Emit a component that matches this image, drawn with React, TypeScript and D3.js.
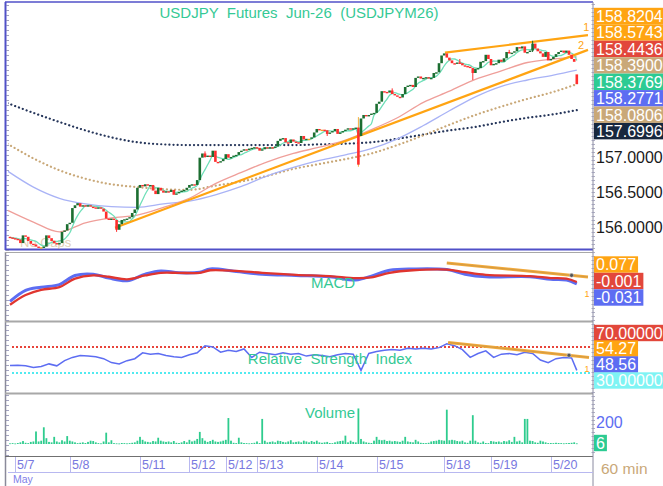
import React, { useEffect, useRef } from 'react';
import * as d3 from 'd3';

// hourly closes, USDJPY futures Jun-26, 5/7 .. 5/20
const closes = [
  155.85, 155.84, 155.83, 155.82, 155.77, 155.88, 155.86, 155.80, 155.76, 155.75,
  155.72, 155.71, 155.71, 155.72, 155.88, 155.84, 155.80, 155.77, 155.75, 155.77,
  155.93, 155.95, 156.04, 156.06, 156.27, 156.31, 156.34, 156.29, 156.31, 156.30,
  156.31, 156.29, 156.28, 156.27, 156.28, 156.26, 156.22, 156.12, 156.11, 156.12,
  156.10, 155.96, 156.04, 156.10, 156.11, 156.12, 156.14, 156.20, 156.25, 156.56,
  156.60, 156.58, 156.61, 156.59, 156.60, 156.52, 156.47, 156.56, 156.52, 156.49,
  156.51, 156.50, 156.53, 156.46, 156.48, 156.50, 156.52, 156.53, 156.56, 156.60,
  156.61, 156.60, 156.67, 156.99, 157.05, 157.00, 157.02, 157.00, 157.09, 156.93,
  156.92, 156.94, 156.97, 157.04, 156.99, 157.00, 157.02, 157.03, 157.07, 157.09,
  157.11, 157.10, 157.12, 157.13, 157.14, 157.13, 157.09, 157.11, 157.14, 157.13,
  157.14, 157.13, 157.15, 157.23, 157.26, 157.27, 157.21, 157.20, 157.25, 157.22,
  157.21, 157.20, 157.30, 157.25, 157.26, 157.26, 157.28, 157.35, 157.40, 157.39,
  157.39, 157.38, 157.33, 157.35, 157.37, 157.40, 157.33, 157.35, 157.37, 157.39,
  157.41, 157.40, 157.41, 157.42, 156.89, 157.55, 157.60, 157.59, 157.60, 157.62,
  157.63, 157.76, 157.79, 157.94, 157.93, 157.92, 157.95, 157.90, 157.88, 157.86,
  157.85, 157.90, 158.00, 158.02, 158.03, 158.00, 158.13, 158.15, 158.12, 158.13,
  158.14, 158.12, 158.13, 158.20, 158.21, 158.34, 158.45, 158.48, 158.42, 158.38,
  158.34, 158.33, 158.35, 158.34, 158.31, 158.30, 158.29, 158.27, 158.20, 158.26,
  158.27, 158.36, 158.37, 158.46, 158.40, 158.31, 158.33, 158.34, 158.39, 158.36,
  158.41, 158.50, 158.48, 158.49, 158.51, 158.57, 158.55, 158.58, 158.49, 158.50,
  158.52, 158.62, 158.55, 158.51, 158.48, 158.43, 158.50, 158.38, 158.40, 158.43,
  158.47, 158.50, 158.52, 158.49, 158.52, 158.46, 158.40, 158.36, 158.04,
];
// candles that gapped away from the previous close
const openOverrides: Record<number, number> = { 0: 155.86, 135: 157.3, 218: 158.18 };
// [index, high, low] for the visible wicks
const wicks: [number, number, number][] = [
  [41, 156.1, 155.93], [75, 157.08, 156.99], [122, 157.38, 157.3], [134, 157.57, 156.86],
  [147, 157.98, 157.9], [173, 158.4, 158.33], [178, 158.27, 158.1], [192, 158.53, 158.48],
  [201, 158.66, 158.5],
];

const volumes = [
  6, 8, 5, 9, 15, 27, 11, 8, 19, 23,
  114, 23, 30, 152, 53, 19, 15, 65, 23, 15,
  34, 23, 72, 30, 23, 15, 8, 11, 15, 9,
  19, 30, 27, 15, 8, 6, 23, 103, 15, 34,
  8, 6, 5, 9, 8, 6, 8, 11, 15, 30,
  65, 38, 23, 19, 15, 27, 23, 57, 30, 23,
  19, 23, 15, 27, 11, 9, 15, 27, 15, 38,
  23, 30, 46, 110, 53, 30, 19, 27, 38, 23,
  19, 23, 30, 38, 236, 30, 11, 8, 57, 15,
  9, 8, 6, 8, 11, 23, 8, 228, 30, 15,
  19, 23, 15, 30, 27, 19, 15, 23, 34, 15,
  19, 23, 15, 30, 23, 15, 27, 19, 30, 15,
  11, 15, 19, 9, 8, 15, 23, 27, 30, 76,
  15, 30, 19, 15, 323, 46, 23, 15, 11, 9,
  30, 65, 38, 34, 38, 27, 30, 23, 27, 23,
  19, 30, 65, 23, 19, 15, 38, 23, 11, 9,
  8, 11, 23, 27, 30, 38, 34, 30, 312, 34,
  38, 34, 27, 23, 30, 15, 11, 30, 262, 30,
  15, 11, 23, 9, 8, 27, 23, 19, 23, 15,
  27, 23, 34, 19, 65, 23, 30, 15, 228, 228,
  30, 27, 15, 11, 30, 23, 15, 8, 9, 8,
  11, 9, 8, 6, 8, 9, 11, 15, 6,
];

const dayLabels = ['5/7', '5/8', '5/11', '5/12', '5/12', '5/13', '5/14', '5/15', '5/18', '5/19', '5/20'];
const dayIdx = [2, 23, 50, 69, 83, 95, 118, 141, 167, 185, 208];

// moving averages sampled every 10 bars
const maIdx = [-1, 9, 19, 29, 39, 49, 59, 69, 79, 89, 99, 109, 119, 129, 139, 149, 159, 169, 179, 189, 199, 209, 218];
const maRed = [156.24, 156.07, 155.93, 156.06, 156.13, 156.17, 156.28, 156.41, 156.62, 156.78, 156.93, 157.05, 157.14, 157.24, 157.39, 157.56, 157.78, 157.94, 158.11, 158.23, 158.35, 158.4, 158.43];
const maBlue = [156.8, 156.57, 156.41, 156.33, 156.29, 156.28, 156.33, 156.37, 156.46, 156.58, 156.73, 156.85, 156.95, 157.03, 157.12, 157.26, 157.45, 157.66, 157.86, 158.01, 158.1, 158.17, 158.24];
const maTan = [157.19, 156.98, 156.81, 156.69, 156.61, 156.57, 156.54, 156.53, 156.59, 156.65, 156.73, 156.83, 156.9, 156.97, 157.05, 157.17, 157.31, 157.46, 157.6, 157.72, 157.83, 157.93, 158.04];
const maNavy = [157.77, 157.63, 157.5, 157.38, 157.28, 157.21, 157.18, 157.17, 157.17, 157.17, 157.17, 157.17, 157.18, 157.19, 157.21, 157.26, 157.32, 157.38, 157.43, 157.5, 157.56, 157.61, 157.67];

// trend lines: [index, price] end points
const trendMain: [number, number][][] = [
  [[40.4, 155.99], [222.3, 158.53]],
  [[167.3, 158.49], [222.3, 158.74]],
];
const trendTags = ['2', '1'];

const macdIdx = [0, 6, 12, 19, 25, 32, 38, 45, 52, 58, 65, 73, 77, 87, 97, 110, 123, 133, 139, 146, 155, 168, 175, 183, 200, 208, 214, 218];
const macdLine = [-0.3, -0.13, -0.08, -0.04, 0.1, 0.12, 0.06, 0.02, 0.12, 0.17, 0.14, 0.15, 0.2, 0.16, 0.12, 0.1, 0.08, 0.03, 0.09, 0.18, 0.2, 0.19, 0.12, 0.08, 0.08, 0.04, 0.03, -0.03];
const signalLine = [-0.35, -0.2, -0.12, -0.08, 0.05, 0.1, 0.08, 0.04, 0.1, 0.14, 0.14, 0.14, 0.18, 0.17, 0.14, 0.11, 0.09, 0.06, 0.07, 0.14, 0.18, 0.19, 0.15, 0.11, 0.09, 0.06, 0.05, 0.0];
const macdTrend: [number, number][] = [[168, 0.29], [222.3, 0.077]];

const rsiIdx = d3.range(0, 217, 3).concat([218]);
const rsiLine = [
  41.5, 42, 41, 38.5, 40, 44, 41, 49, 54, 57,
  56, 55, 52, 46, 44, 49, 52, 61, 59, 60,
  57, 55, 54, 58, 61, 72, 70, 62, 65, 63,
  67, 54, 62, 60, 58, 61, 59, 60, 56, 58,
  57, 55, 58, 60, 59, 34, 60, 63, 65, 66,
  65, 68, 67, 68, 67, 69, 75, 72, 66, 54,
  60, 64, 54, 59, 60, 58, 62, 60, 50, 46,
  52, 54, 53, 34,
];
const rsiTrend: [number, number][] = [[168.5, 77], [222.7, 54]];

const priceTags = ['158.82045', '158.57437', '158.44362', '158.39000', '158.37698', '158.27713', '158.08063', '157.69967'];
const priceTagColors = ['#ffa412', '#ffa412', '#e2473b', '#c9a878', '#2ccb93', '#5d6df2', '#c9a878', '#17273e'];
const priceTicks = [157, 156.5, 156];
const macdTags = ['0.077', '-0.001', '-0.031'];
const macdTagColors = ['#ffa412', '#e2473b', '#5d6df2'];
const rsiTags = ['70.00000', '54.27', '48.56', '30.00000'];
const rsiTagColors = ['#e2473b', '#ffa412', '#5d6df2', '#7ff4f4'];

const FONT = '"Liberation Sans", Arial, Helvetica, sans-serif';

const App = () => {
  const svgRef = useRef<SVGSVGElement | null>(null);

  useEffect(() => {
    if (!svgRef.current) return;
    const svg = d3.select(svgRef.current);
    svg.selectAll('*').remove();

    const left = 8, right = 593;
    const main = { top: 3, bottom: 249 };
    const macdP = { top: 254, bottom: 320 };
    const rsiP = { top: 323, bottom: 392 };
    const volP = { top: 395, bottom: 456 };

    const x = d3.scaleLinear().domain([0, 218]).range([10, 576.8]);
    const y = d3.scaleLinear().domain([155.671, 159.2]).range([250, 3]);
    const yMacd = d3.scaleLinear().domain([-0.585, 0.43]).range([320, 254]);
    const yRsi = d3.scaleLinear().domain([0, 100]).range([392.5, 327.5]);
    const yVol = d3.scaleLinear().domain([0, 200]).range([444, 422]);

    svg.append('rect').attr('width', 663).attr('height', 486).attr('fill', '#fff');

    const defs = svg.append('defs');
    const addClip = (id: string, p: { top: number; bottom: number }) => {
      defs.append('clipPath').attr('id', id)
        .append('rect')
        .attr('x', left).attr('y', p.top)
        .attr('width', right - left).attr('height', p.bottom - p.top);
    };
    addClip('clip-main', main);
    addClip('clip-macd', macdP);
    addClip('clip-rsi', rsiP);
    addClip('clip-vol', volP);

    // ---------- frame ----------
    const frame = svg.append('g');
    frame.append('line').attr('x1', 5).attr('x2', right).attr('y1', 2).attr('y2', 2)
      .attr('stroke', '#5050c8').attr('stroke-width', 1.5);
    frame.append('line').attr('x1', 5.5).attr('x2', 5.5).attr('y1', 2).attr('y2', 250)
      .attr('stroke', '#5050c8').attr('stroke-width', 2);
    frame.append('line').attr('x1', 5.5).attr('x2', 5.5).attr('y1', 252).attr('y2', 486)
      .attr('stroke', '#8a8a9a').attr('stroke-width', 1.5);
    frame.append('line').attr('x1', 5).attr('x2', right).attr('y1', 249.5).attr('y2', 249.5)
      .attr('stroke', '#5050c8').attr('stroke-width', 2);
    frame.append('line').attr('x1', 5).attr('x2', right).attr('y1', 252.5).attr('y2', 252.5)
      .attr('stroke', '#a8a8a8').attr('stroke-width', 1);
    [321.5, 393.5].forEach(v => {
      frame.append('line').attr('x1', 5).attr('x2', right).attr('y1', v).attr('y2', v)
        .attr('stroke', '#a8a8a8').attr('stroke-width', 2);
    });
    frame.append('line').attr('x1', 5).attr('x2', right).attr('y1', 456.5).attr('y2', 456.5)
      .attr('stroke', '#707070').attr('stroke-width', 1);
    frame.append('line').attr('x1', right).attr('x2', right).attr('y1', 2).attr('y2', 486)
      .attr('stroke', '#8a8aa0').attr('stroke-width', 1);

    // ruler ticks on both edges
    frame.selectAll('line.rt').data(d3.range(4, 456, 4)).join('line')
      .attr('x1', right - 1.5).attr('x2', right + 2)
      .attr('y1', d => d + 0.5).attr('y2', d => d + 0.5)
      .attr('stroke', '#9a9ab4').attr('stroke-width', 0.8);
    frame.selectAll('line.lt').data(d3.range(5, 456, 5)).join('line')
      .attr('x1', 6).attr('x2', 9)
      .attr('y1', d => d + 0.5).attr('y2', d => d + 0.5)
      .attr('stroke', '#8a8ab0').attr('stroke-width', 0.8);

    // ---------- main panel ----------
    const g = svg.append('g').attr('clip-path', 'url(#clip-main)');

    g.append('text')
      .attr('x', 20).attr('y', 247)
      .style('font-family', FONT).style('font-size', '13px')
      .style('fill', '#c9a878').style('opacity', 0.55)
      .text('No Gaps');

    const maLine = d3.line<number>()
      .x((_, i) => x(maIdx[i]))
      .y(d => y(d))
      .curve(d3.curveMonotoneX);

    g.append('path').datum(maNavy).attr('d', maLine).attr('fill', 'none')
      .attr('stroke', '#25355a').attr('stroke-width', 2.2)
      .attr('stroke-dasharray', '0.1 4').attr('stroke-linecap', 'round');
    g.append('path').datum(maTan).attr('d', maLine).attr('fill', 'none')
      .attr('stroke', '#c9a878').attr('stroke-width', 2.2)
      .attr('stroke-dasharray', '0.1 4').attr('stroke-linecap', 'round');
    g.append('path').datum(maBlue).attr('d', maLine).attr('fill', 'none')
      .attr('stroke', '#a9b3f6').attr('stroke-width', 1.3);
    g.append('path').datum(maRed).attr('d', maLine).attr('fill', 'none')
      .attr('stroke', '#ef9f9a').attr('stroke-width', 1.3);

    // short SMA(6) of the closes
    const sma = closes.map((_, i) => d3.mean(closes.slice(Math.max(0, i - 5), i + 1)) as number);
    g.append('path').datum(sma)
      .attr('d', d3.line<number>().x((_, i) => x(i)).y(d => y(d)).curve(d3.curveMonotoneX))
      .attr('fill', 'none').attr('stroke', '#6fdfb8').attr('stroke-width', 1.3);

    trendMain.forEach((seg, k) => {
      g.append('line')
        .attr('x1', x(seg[0][0])).attr('y1', y(seg[0][1]))
        .attr('x2', x(seg[1][0])).attr('y2', y(seg[1][1]))
        .attr('stroke', '#ffa412').attr('stroke-width', 2.2);
      const tx = k === 0 ? 218.5 : 220.5;
      const slope = (seg[1][1] - seg[0][1]) / (seg[1][0] - seg[0][0]);
      svg.append('text')
        .attr('x', x(tx)).attr('y', y(seg[0][1] + slope * (tx - seg[0][0])) - 5)
        .style('font-family', FONT).style('font-size', '11px').style('fill', '#ffa412')
        .text(trendTags[k]);
    });

    const candles = closes.map((c, i) => {
      const o = openOverrides[i] ?? (i > 0 ? closes[i - 1] : c);
      return { i, o, c, h: Math.max(o, c), l: Math.min(o, c) };
    });
    wicks.forEach(([i, h, l]) => { candles[i].h = h; candles[i].l = l; });
    const candleColor = (d: { o: number; c: number }) =>
      Math.abs(d.c - d.o) < 0.005 ? '#f5a623' : d.c > d.o ? '#1c6e31' : '#ff2e2e';

    g.selectAll('line.wick')
      .data(candles.filter(d => d.h > Math.max(d.o, d.c) || d.l < Math.min(d.o, d.c)))
      .join('line')
      .attr('x1', d => x(d.i)).attr('x2', d => x(d.i))
      .attr('y1', d => y(d.h)).attr('y2', d => y(d.l))
      .attr('stroke', d => (d.i === 134 ? '#f5b040' : candleColor(d))).attr('stroke-width', 1);

    g.selectAll('rect.body').data(candles).join('rect')
      .attr('x', d => x(d.i) - 1.3)
      .attr('width', 2.6)
      .attr('y', d => y(Math.max(d.o, d.c)))
      .attr('height', d => Math.max(1.4, Math.abs(y(d.o) - y(d.c))))
      .attr('fill', d => candleColor(d));

    // title
    svg.append('text')
      .attr('x', 299).attr('y', 18)
      .attr('text-anchor', 'middle')
      .style('font-family', FONT).style('font-size', '15px')
      .style('white-space', 'pre').style('fill', '#35c995')
      .text('USDJPY  Futures  Jun-26  (USDJPYM26)');

    // ---------- MACD ----------
    const gm = svg.append('g').attr('clip-path', 'url(#clip-macd)');
    const mLine = d3.line<number>().x((_, i) => x(macdIdx[i])).y(d => yMacd(d)).curve(d3.curveCatmullRom);
    gm.append('path').datum(macdLine).attr('d', mLine).attr('fill', 'none')
      .attr('stroke', '#5d6df2').attr('stroke-width', 3);
    gm.append('path').datum(signalLine).attr('d', mLine).attr('fill', 'none')
      .attr('stroke', '#e0352f').attr('stroke-width', 2.3);
    const trendBand = (grp: any, pts: [number, number][], ys: (v: number) => number) => {
      grp.append('line')
        .attr('x1', x(pts[0][0])).attr('y1', ys(pts[0][1]))
        .attr('x2', x(pts[1][0])).attr('y2', ys(pts[1][1]))
        .attr('stroke', '#f2aa3c').attr('stroke-width', 3);
      grp.append('line')
        .attr('x1', x(pts[0][0])).attr('y1', ys(pts[0][1]))
        .attr('x2', x(pts[1][0])).attr('y2', ys(pts[1][1]))
        .attr('stroke', '#8a7a55').attr('stroke-width', 0.5).attr('opacity', 0.6);
    };
    trendBand(gm, macdTrend, yMacd);
    const mSlope = (macdTrend[1][1] - macdTrend[0][1]) / (macdTrend[1][0] - macdTrend[0][0]);
    gm.append('circle').attr('cx', x(216)).attr('cy', yMacd(macdTrend[0][1] + mSlope * (216 - macdTrend[0][0])))
      .attr('r', 2).attr('fill', '#555').attr('stroke', '#ccc').attr('stroke-width', 0.6);
    gm.append('text').attr('x', x(221)).attr('y', 297)
      .style('font-family', FONT).style('font-size', '9px').style('fill', '#ffa412').text('1');
    svg.append('text')
      .attr('x', 333).attr('y', 288).attr('text-anchor', 'middle')
      .style('font-family', FONT).style('font-size', '15px').style('fill', '#35c995')
      .text('MACD');

    // ---------- RSI ----------
    const gr = svg.append('g').attr('clip-path', 'url(#clip-rsi)');
    [[70, '#e8443a'], [30, '#52eaf0']].forEach(([lv, col]) => {
      gr.append('line')
        .attr('x1', 12).attr('x2', 590)
        .attr('y1', yRsi(lv as number)).attr('y2', yRsi(lv as number))
        .attr('stroke', col as string).attr('stroke-width', 2)
        .attr('stroke-dasharray', '2 2');
    });
    gr.append('path').datum(rsiLine)
      .attr('d', d3.line<number>().x((_, i) => x(rsiIdx[i])).y(d => yRsi(d)))
      .attr('fill', 'none').attr('stroke', '#5d6df2').attr('stroke-width', 1.5);
    trendBand(gr, rsiTrend, yRsi);
    const rSlope = (rsiTrend[1][1] - rsiTrend[0][1]) / (rsiTrend[1][0] - rsiTrend[0][0]);
    gr.append('circle').attr('cx', x(215)).attr('cy', yRsi(rsiTrend[0][1] + rSlope * (215 - rsiTrend[0][0])))
      .attr('r', 2).attr('fill', '#555').attr('stroke', '#ccc').attr('stroke-width', 0.6);
    gr.append('text').attr('x', x(221)).attr('y', 372)
      .style('font-family', FONT).style('font-size', '9px').style('fill', '#ffa412').text('1');
    svg.append('text')
      .attr('x', 330).attr('y', 364).attr('text-anchor', 'middle')
      .style('font-family', FONT).style('font-size', '15px')
      .style('white-space', 'pre').style('fill', '#35c995')
      .text('Relative  Strength  Index');

    // ---------- Volume ----------
    const gv = svg.append('g').attr('clip-path', 'url(#clip-vol)');
    gv.selectAll('rect').data(volumes).join('rect')
      .attr('x', (_, i) => x(i) - 0.9)
      .attr('width', 1.8)
      .attr('y', d => yVol(d))
      .attr('height', d => Math.max(0.8, yVol(0) - yVol(d)))
      .attr('fill', '#2ecc8e');
    svg.append('text')
      .attr('x', 330).attr('y', 418).attr('text-anchor', 'middle')
      .style('font-family', FONT).style('font-size', '15px').style('fill', '#35c995')
      .text('Volume');

    // ---------- right-hand tags ----------
    const tag = (text: string, yc: number, bg: string, fg = '#fff', full = false) => {
      const grp = svg.append('g');
      const r = grp.append('rect').attr('x', 594).attr('y', yc - 8.2).attr('height', 16.4).attr('fill', bg);
      const t = grp.append('text')
        .attr('x', 596).attr('y', yc + 5.8)
        .style('font-family', FONT).style('font-size', '16px').style('fill', fg)
        .text(text);
      const w = (t.node() as SVGTextElement).getComputedTextLength();
      r.attr('width', full ? 70 : w + 4);
    };
    priceTags.forEach((s, k) => tag(s, 16 + k * 16.45, priceTagColors[k], '#fff', true));
    priceTicks.forEach(v => {
      svg.append('text')
        .attr('x', 596).attr('y', y(v) + 5.8)
        .style('font-family', FONT).style('font-size', '16px').style('fill', '#1a1a1a')
        .text(d3.format('.4f')(v));
    });
    macdTags.forEach((s, k) => tag(s, 264.5 + k * 16.5, macdTagColors[k]));
    const rsiCenters = [333, 348.5, 364.5, 380.5];
    rsiTags.forEach((s, k) => tag(s, rsiCenters[k], rsiTagColors[k], '#fff', k === 0 || k === 3));
    svg.append('text')
      .attr('x', 596).attr('y', yVol(200) + 5.8)
      .style('font-family', FONT).style('font-size', '16px').style('fill', '#5d6df2')
      .text('200');
    tag(String(volumes[volumes.length - 1]), 443, '#2ccb93');

    // ---------- time axis ----------
    const ax = svg.append('g');
    ax.selectAll('line.day').data(dayIdx).join('line')
      .attr('x1', d => Math.round(x(d)) + 0.5).attr('x2', d => Math.round(x(d)) + 0.5)
      .attr('y1', 457).attr('y2', 472)
      .attr('stroke', '#b8b8f0').attr('stroke-width', 1);
    ax.selectAll('text.day').data(dayIdx).join('text')
      .attr('x', d => Math.round(x(d)) + 2).attr('y', 469)
      .style('font-family', FONT).style('font-size', '12.5px').style('fill', '#7878e0')
      .text((_, k) => dayLabels[k]);
    ax.append('line').attr('x1', 8).attr('x2', right).attr('y1', 472.5).attr('y2', 472.5)
      .attr('stroke', '#b8b8f0').attr('stroke-width', 1);
    ax.append('text').attr('x', 13).attr('y', 483)
      .style('font-family', FONT).style('font-size', '10.5px').style('fill', '#8080e8')
      .text('May');
    ax.append('text').attr('x', 601).attr('y', 474)
      .style('font-family', FONT).style('font-size', '15.5px').style('fill', '#c9a878')
      .text('60 min');

    return () => {};
  }, []);

  return (
    <svg
      ref={svgRef}
      width={663}
      height={486}
      style={{ position: 'absolute', left: 0, top: 0, display: 'block' }}
    />
  );
};

export default App;
